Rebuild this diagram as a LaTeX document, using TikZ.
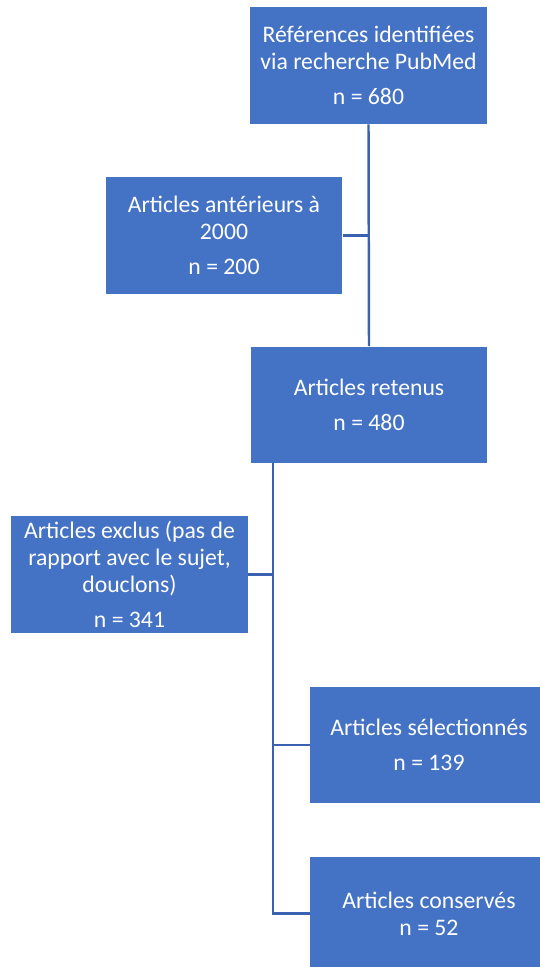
\documentclass[tikz,border=0pt]{standalone}
\usepackage{fontspec}
\setmainfont{Carlito}
\usetikzlibrary{positioning}
\definecolor{boxblue}{RGB}{68,114,196}
\definecolor{linkblue}{RGB}{58,98,176}
\tikzset{
  stage/.style={fill=boxblue, text=white, align=center, inner sep=0pt,
    minimum width=4.74cm, minimum height=2.34cm,
    font=\fontsize{13.5}{15.4}\selectfont},
  link/.style={linkblue, line width=1.4pt}
}

\begin{document}
\begin{tikzpicture}[x=0.02cm, y=-0.02cm]
\useasboundingbox (0,0) rectangle (539,967);
% TOP: search and first exclusion
\node[stage] (refs) at (368.5,65.5) {Références identifiées\\via recherche PubMed\\[4.5pt]n = 680};
\node[stage] (anterieurs) at (224,235.5) {Articles antérieurs à\\2000\\[4.5pt]n = 200};
\node[stage] (retenus) at (369,405) {Articles retenus\\[4.5pt]n = 480};
\draw[link] (refs.south) -- (retenus.north);
\draw[link] (anterieurs.east) -- (anterieurs.east -| refs.south);

% BOTTOM: screening
\node[stage] (exclus) at (129.5,574.5) {Articles exclus (pas de\\rapport avec le sujet,\\douclons)\\[4.5pt]n = 341};
\node[stage, minimum width=4.76cm] (selectionnes) at (429,745) {Articles sélectionnés\\[4.5pt]n = 139};
\node[stage, minimum width=4.76cm, minimum height=2.26cm] (conserves) at (429,913.5) {Articles conservés\\n = 52};
\coordinate (spine) at (273,463);
\coordinate (spineEnd) at (spine |- conserves.west);
\draw[link] (spine) -- (spineEnd) -- (conserves.west);
\draw[link] (exclus.east) -- (exclus.east -| spine);
\draw[link] (selectionnes.west) -- (selectionnes.west -| spine);
\end{tikzpicture}
\end{document}
